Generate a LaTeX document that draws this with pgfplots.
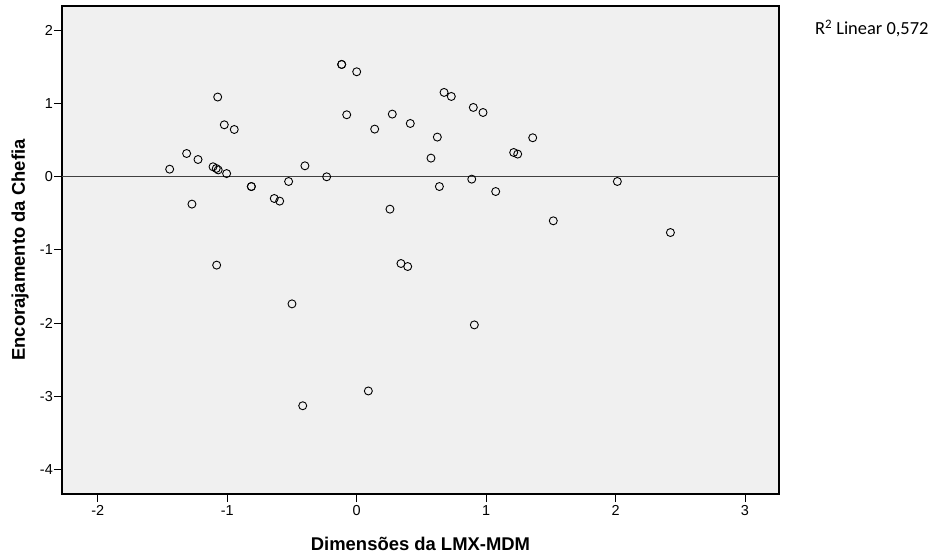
\documentclass[border=0pt]{standalone}
\usepackage{fontspec}
\setmainfont{Liberation Sans}
\newfontfamily\calibri{Carlito}
\usepackage{pgfplots}
\pgfplotsset{compat=1.18}
\definecolor{bgc}{HTML}{F0F0F0}
\definecolor{zl}{HTML}{404040}
\begin{document}
\begin{tikzpicture}
\begin{axis}[
  scale only axis,
  width=717bp, height=488bp,
  xmin=-2.277, xmax=3.263,
  ymin=-4.335, ymax=2.328,
  xtick={-2,-1,0,1,2,3},
  ytick={-4,-3,-2,-1,0,1,2},
  xtick pos=bottom, ytick pos=left,
  tick align=outside,
  major tick length=8bp,
  tick style={black, line width=0.9bp},
  axis line style={black, line width=1.3bp},
  axis background/.style={fill=bgc},
  /pgf/number format/assume math mode=true,
  ticklabel style={font=\fontsize{14.5}{16}\selectfont},
  xticklabel style={inner ysep=3bp},
  yticklabel style={inner xsep=1bp},
  xlabel={\bfseries Dimensões da LMX-MDM},
  ylabel={\bfseries Encorajamento da Chefia},
  xlabel style={at={(axis description cs:0.5,-0.1148)}, anchor=base, font=\fontsize{18.5}{20}\selectfont},
  ylabel style={at={(axis description cs:-0.0516,0.5)}, anchor=base, font=\fontsize{18.5}{20}\selectfont},
  clip=false,
]
\addplot[zl, line width=1.4bp, no marks] coordinates {(-2.277,0) (3.263,0)};
\addplot[only marks, mark=o, mark size=4bp, mark options={black, line width=0.9bp}] coordinates {
(-1.445,0.10)
(-1.314,0.314)
(-1.226,0.232)
(-1.273,-0.377)
(-1.110,0.133)
(-1.085,0.11)
(-1.070,0.09)
(-1.005,0.04)
(-1.074,1.085)
(-1.023,0.706)
(-0.946,0.642)
(-0.814,-0.137)
(-0.814,-0.137)
(-0.637,-0.30)
(-0.595,-0.336)
(-0.526,-0.068)
(-0.40,0.146)
(-0.232,-0.004)
(-0.116,1.53)
(-0.116,1.53)
(0.0,1.43)
(-0.077,0.843)
(0.139,0.647)
(0.275,0.852)
(0.257,-0.446)
(-1.082,-1.21)
(0.414,0.724)
(0.675,1.148)
(0.731,1.093)
(0.901,0.943)
(0.976,0.874)
(0.623,0.538)
(0.574,0.251)
(1.213,0.328)
(1.244,0.306)
(1.360,0.529)
(0.889,-0.036)
(0.639,-0.137)
(1.074,-0.205)
(1.519,-0.605)
(2.014,-0.068)
(2.424,-0.765)
(0.342,-1.188)
(0.394,-1.229)
(-0.50,-1.739)
(-0.417,-3.13)
(0.09,-2.928)
(0.909,-2.026)
};
\node[anchor=base west, font=\calibri\fontsize{18.5}{20}\selectfont, inner sep=0pt] at (axis description cs:1.050,0.9406) {R\textsuperscript{2} Linear 0,572};
\end{axis}
\path ([shift={(-62bp,-59bp)}]current axis.south west) rectangle ([shift={(164bp,6bp)}]current axis.north east);
\end{tikzpicture}
\end{document}
